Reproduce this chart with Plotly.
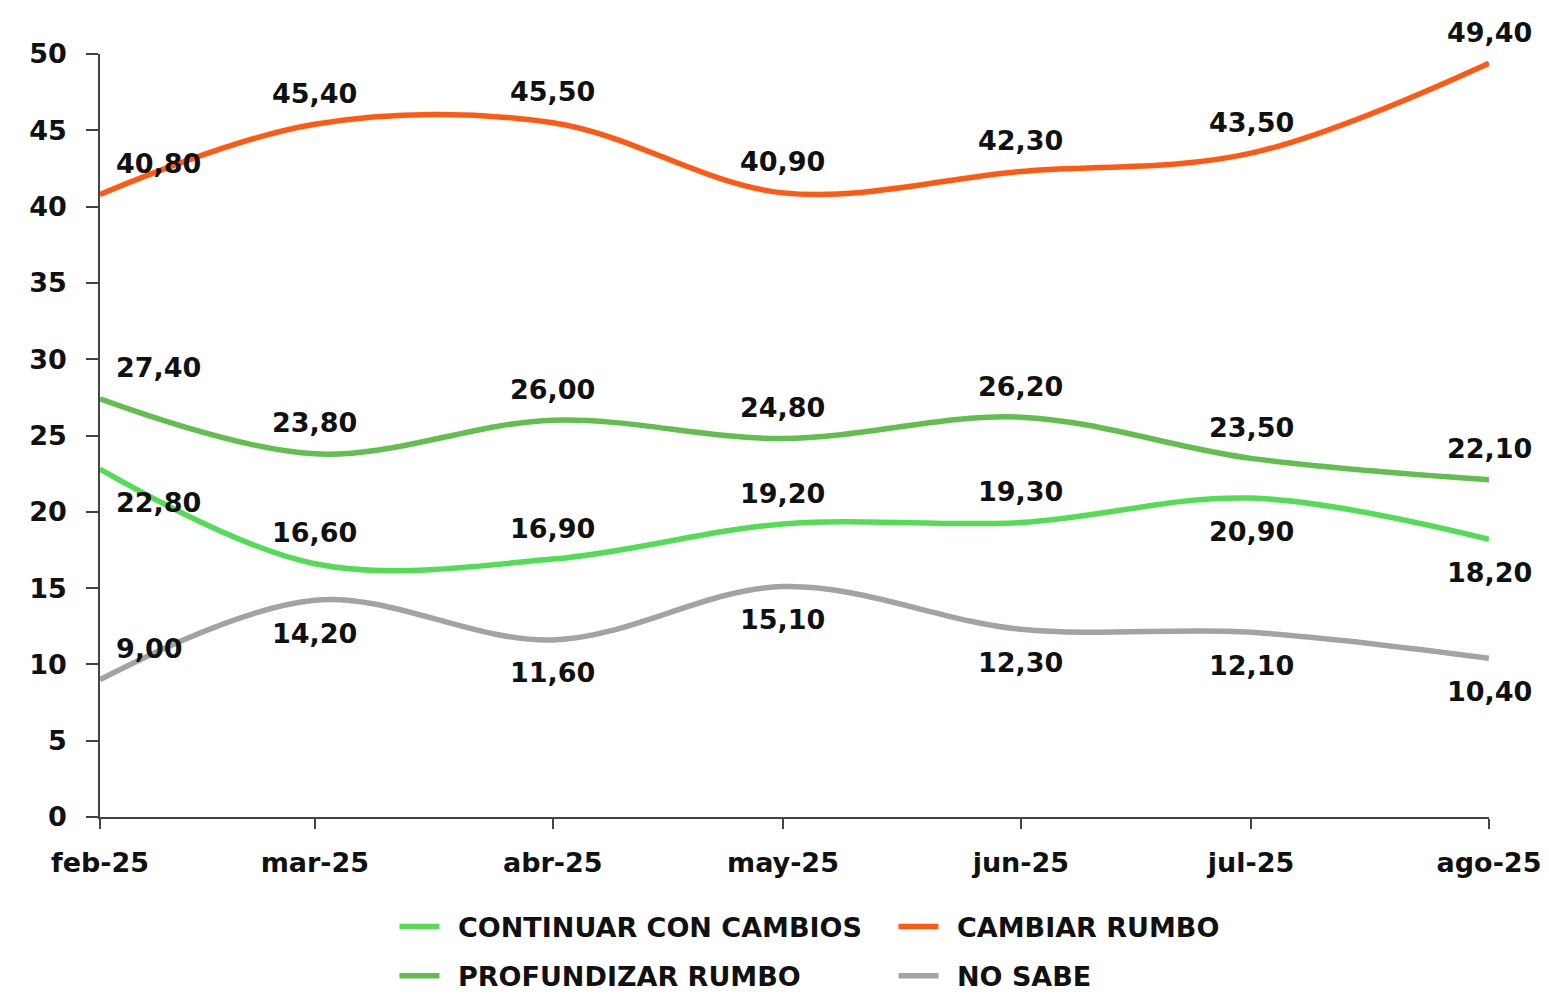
import plotly.graph_objects as go

# ---- data ----
months = ["2025-02-01", "2025-03-01", "2025-04-01", "2025-05-01",
          "2025-06-01", "2025-07-01", "2025-08-01"]
month_labels = ["feb-25", "mar-25", "abr-25", "may-25", "jun-25", "jul-25", "ago-25"]

continuar = [22.8, 16.6, 16.9, 19.2, 19.3, 20.9, 18.2]
cambiar = [40.8, 45.4, 45.5, 40.9, 42.3, 43.5, 49.4]
profundizar = [27.4, 23.8, 26.0, 24.8, 26.2, 23.5, 22.1]
no_sabe = [9.0, 14.2, 11.6, 15.1, 12.3, 12.1, 10.4]

series_names = ["CONTINUAR CON CAMBIOS", "CAMBIAR RUMBO", "PROFUNDIZAR RUMBO", "NO SABE"]
y_ticks = [0, 5, 10, 15, 20, 25, 30, 35, 40, 45, 50]

# ---- style ----
FONT = "DejaVu Sans"
FS = 27
TXT = "#111111"
colors = ["#55DC55", "#FF5A14", "#62BE4E", "#A3A3A3"]
legend_ids = ["legend", "legend", "legend2", "legend2"]
# label placement: 1 = above, -1 = below
placement = [
    [-1, 1, 1, 1, 1, -1, -1],
    [1, 1, 1, 1, 1, 1, 1],
    [1, 1, 1, 1, 1, 1, 1],
    [1, -1, -1, -1, -1, -1, -1],
]
all_series = [continuar, cambiar, profundizar, no_sabe]
bold = dict(family=FONT, size=FS, color=TXT, weight="bold")

fig = go.Figure()
for name, vals, col, lg in zip(series_names, all_series, colors, legend_ids):
    fig.add_trace(go.Scatter(
        x=months, y=vals, name="\u2002" + name, mode="lines",
        line=dict(color=col, width=5.5, shape="spline", smoothing=1.0),
        cliponaxis=False, legend=lg,
    ))

annotations = []
for vals, pl in zip(all_series, placement):
    for i, (xv, yv) in enumerate(zip(months, vals)):
        annotations.append(dict(
            x=xv, y=yv, xref="x", yref="y",
            text=f"{yv:.2f}".replace(".", ","),
            showarrow=False, font=bold,
            xanchor="left" if i == 0 else "center",
            yshift=31 if pl[i] > 0 else -33,
            xshift=14 if i == 0 else 0,
        ))

leg_common = dict(
    orientation="h", x=0.212, xanchor="left", yanchor="top",
    entrywidth=444, entrywidthmode="pixels",
    font=bold, itemwidth=40, bgcolor="rgba(0,0,0,0)",
)

fig.update_layout(
    width=1549, height=994,
    margin=dict(l=100, r=60, t=54, b=177, autoexpand=False),
    paper_bgcolor="white", plot_bgcolor="white",
    font=bold,
    annotations=annotations,
    showlegend=True,
    legend=dict(leg_common, y=-0.112),
    legend2=dict(leg_common, y=-0.1764),
    xaxis=dict(
        type="date", range=[months[0], months[-1]],
        tickvals=months, ticktext=month_labels,
        showgrid=False, zeroline=False,
        showline=True, linecolor="#444444", linewidth=1.5,
        ticks="outside", ticklen=10, tickcolor="#444444", tickwidth=1.5,
        ticklabelstandoff=11, tickfont=bold, automargin=False,
    ),
    yaxis=dict(
        range=[0, 50], tickvals=y_ticks,
        showgrid=False, zeroline=False,
        showline=True, linecolor="#444444", linewidth=1.5,
        ticks="outside", ticklen=12, tickcolor="#444444", tickwidth=1.5,
        ticklabelstandoff=14, tickfont=bold, automargin=False,
    ),
)

fig.write_html("out.html", config={"displayModeBar": False},
               post_script="document.body.style.margin='0';")
